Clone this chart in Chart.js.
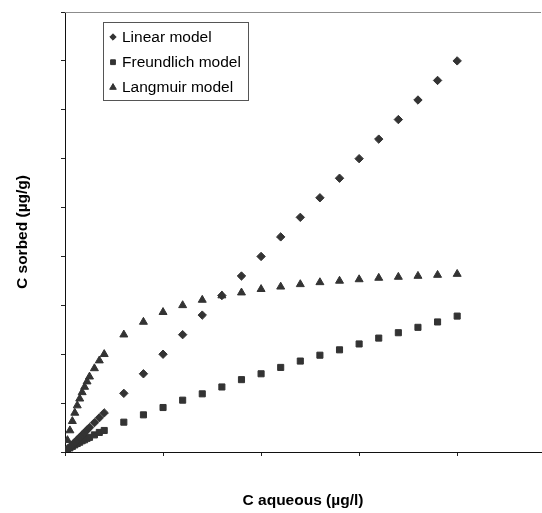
<!DOCTYPE html>
<html>
<head>
<meta charset="utf-8">
<script src="https://cdn.jsdelivr.net/npm/chart.js@4/dist/chart.umd.min.js"></script>
<style>
  html, body { margin: 0; padding: 0; background: #fff; }
  #wrap { width: 542px; height: 513px; }
</style>
</head>
<body>
<div id="wrap"><canvas id="myChart" width="542" height="513"></canvas></div>
<script>
// C aqueous values (µg/l) shared by all three models
const cAqueous = [0.5, 1, 1.5, 2, 2.5, 3, 3.5, 4, 4.5, 5, 6, 7, 8, 12, 16, 20, 24, 28, 32, 36, 40, 44, 48, 52, 56, 60, 64, 68, 72, 76, 80];

// C sorbed values (µg/g)
const linearModel = [0.5, 1, 1.5, 2, 2.5, 3, 3.5, 4, 4.5, 5, 6, 7, 8, 12, 16, 20, 24, 28, 32, 36, 40, 44, 48, 52, 56, 60, 64, 68, 72, 76, 80];
const freundlichModel = [0.48, 0.84, 1.15, 1.45, 1.74, 2.0, 2.3, 2.5, 2.8, 3.0, 3.5, 4.0, 4.4, 6.1, 7.6, 9.1, 10.6, 11.9, 13.3, 14.8, 16.0, 17.3, 18.6, 19.8, 20.9, 22.1, 23.3, 24.4, 25.5, 26.6, 27.8];
const langmuirModel = [2.4, 4.4, 6.3, 8.0, 9.5, 10.9, 12.2, 13.3, 14.4, 15.4, 17.1, 18.7, 20.0, 24.0, 26.6, 28.6, 30.0, 31.1, 32.0, 32.6, 33.3, 33.8, 34.3, 34.7, 35.0, 35.3, 35.6, 35.8, 36.0, 36.2, 36.4];

const seriesNames = ["Linear model", "Freundlich model", "Langmuir model"];
const xTitle = "C aqueous (µg/l)";
const yTitle = "C sorbed (µg/g)";

const toPoints = (ys) => cAqueous.map((x, i) => ({ x: x, y: ys[i] }));
const markColor = "#333333";
const fontFamily = '"Liberation Sans", Arial, sans-serif';

// legend box inside the plot, plus the grey top edge of the plot area
const boxLegend = {
  id: "boxLegend",
  afterDraw(chart) {
    const { ctx, chartArea } = chart;
    ctx.save();
    ctx.strokeStyle = "#8c8c8c";
    ctx.lineWidth = 1;
    ctx.beginPath();
    ctx.moveTo(chartArea.left, chartArea.top + 0.5);
    ctx.lineTo(chartArea.right, chartArea.top + 0.5);
    ctx.stroke();

    ctx.strokeStyle = "#555";
    ctx.strokeRect(103.5, 22.5, 145, 78);
    ctx.font = "15.5px " + fontFamily;
    ctx.textBaseline = "middle";
    const markSize = [3.2, 3.4, 3.8];
    chart.data.datasets.forEach((ds, i) => {
      const y = 37 + i * 25.2;
      ctx.fillStyle = markColor;
      ctx.strokeStyle = markColor;
      Chart.helpers.drawPoint(ctx, { pointStyle: ds.pointStyle, radius: markSize[i], borderWidth: 1, rotation: 0 }, 113, y);
      ctx.fillStyle = "#000";
      ctx.fillText(ds.label, 122, y + 0.5);
    });
    ctx.restore();
  },
};

const ctx = document.getElementById("myChart");

new Chart(ctx, {
  type: "scatter",
  data: {
    datasets: [
      { label: seriesNames[0], data: toPoints(linearModel), pointStyle: "rectRot", pointRadius: 4.2 },
      { label: seriesNames[1], data: toPoints(freundlichModel), pointStyle: "rect", pointRadius: 4.3 },
      { label: seriesNames[2], data: toPoints(langmuirModel), pointStyle: "triangle", pointRadius: 4.6 },
    ].map((ds) => Object.assign(ds, {
      backgroundColor: markColor,
      borderColor: markColor,
      borderWidth: 1,
      pointHoverRadius: ds.pointRadius,
    })),
  },
  options: {
    responsive: false,
    animation: false,
    layout: { autoPadding: false, padding: { top: 12, right: 1, bottom: 0, left: 0 } },
    plugins: {
      legend: { display: false },
      tooltip: { enabled: false },
    },
    scales: {
      x: {
        type: "linear",
        min: 0,
        max: 97.1,
        ticks: { display: false, stepSize: 20, includeBounds: false },
        grid: { drawOnChartArea: false, drawTicks: true, tickLength: 4, color: "#222" },
        border: { color: "#111", width: 1 },
        title: {
          display: true,
          text: xTitle,
          color: "#000",
          font: { family: fontFamily, size: 15.5, weight: "bold" },
          padding: { top: 35.8, bottom: 2.6 },
        },
      },
      y: {
        type: "linear",
        min: 0,
        max: 90,
        ticks: { display: false, stepSize: 10, includeBounds: false },
        grid: { drawOnChartArea: false, drawTicks: true, tickLength: 4, color: "#222" },
        border: { color: "#111", width: 1 },
        title: {
          display: true,
          text: yTitle,
          color: "#000",
          font: { family: fontFamily, size: 15.5, weight: "bold" },
          padding: { top: 13, bottom: 29.4 },
        },
      },
    },
  },
  plugins: [boxLegend],
});
</script>
</body>
</html>
